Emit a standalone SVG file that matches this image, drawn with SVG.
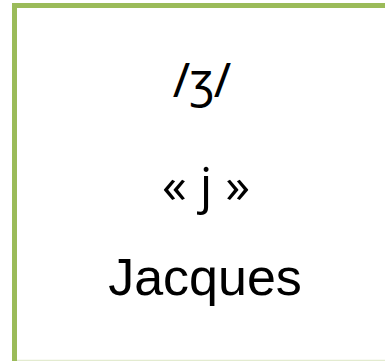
<svg xmlns="http://www.w3.org/2000/svg" width="385" height="361" viewBox="0 0 385 361">
<style>
.t{fill:#000;text-anchor:middle}
</style>
<rect width="385" height="361" fill="#fff"/>
<g id="box">
<line x1="14.5" y1="360.5" x2="385" y2="360.5" stroke="#e3ebd0" stroke-width="1.5"/>
<path d="M14.5 361 V5.5 H385" fill="none" stroke="#9bbb59" stroke-width="5"/>
</g>
<g id="labels">
<text class="t" x="202" y="97" font-family="'Noto Sans', sans-serif" font-size="47">/ʒ/</text>
<text class="t" x="206" y="203" font-family="'Open Sans', sans-serif" font-size="50" font-weight="500">« j »</text>
<text class="t" x="205" y="295" font-family="'Liberation Sans', Arial, sans-serif" font-size="52">Jacques</text>
</g>
</svg>
